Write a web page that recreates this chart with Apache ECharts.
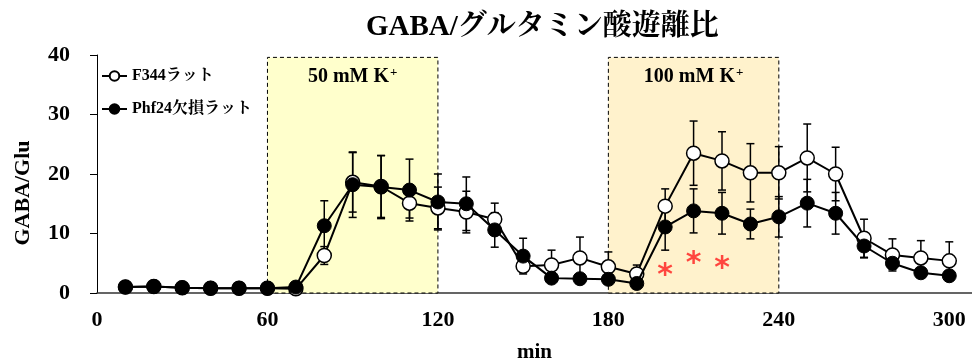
<!DOCTYPE html>
<html>
<head>
<meta charset="utf-8">
<script src="https://cdn.jsdelivr.net/npm/echarts@6/dist/echarts.min.js"></script>
<style>
html,body{margin:0;padding:0;background:#fff;}
#chart{width:972px;height:363px;}
</style>
</head>
<body>
<div id="chart"></div>
<script>
// ---- data ----
const times = [10,20,30,40,50,60,70,80,90,100,110,120,130,140,150,160,170,180,190,200,210,220,230,240,250,260,270,280,290,300];
const f344 = [1.0,1.1,0.9,0.8,0.8,0.8,0.7,6.3,18.6,17.9,15.1,14.3,13.6,12.4,4.5,4.7,5.9,4.4,3.2,14.6,23.5,22.2,20.2,20.2,22.7,20.0,9.2,6.4,5.9,5.4];
const f344Err = [0.3,0.3,0.2,0.2,0.2,0.2,0.3,1.5,5.0,5.2,2.5,3.5,3.5,2.7,1.0,2.5,3.5,2.5,1.5,2.9,5.4,4.9,4.9,4.4,5.7,4.5,3.2,2.7,2.9,3.2];
const phf24 = [1.0,1.1,0.9,0.8,0.8,0.8,1.0,11.3,18.2,17.8,17.3,15.3,15.0,10.6,6.2,2.5,2.4,2.3,1.6,11.1,13.8,13.4,11.6,12.8,15.1,13.4,7.9,5.0,3.4,2.9];
const phf24Err = [0.3,0.3,0.2,0.2,0.2,0.2,0.3,4.2,5.5,5.3,5.2,4.7,4.5,2.9,3.0,0.5,0.5,0.5,0.5,3.9,3.7,3.5,2.5,3.4,4.0,3.5,2.0,1.0,0.8,0.8];
const sigTimes = [200,210,220];
const sigY = [4.0,6.0,5.2];
const xTicks = [0,60,120,180,240,300];
const yTicks = [0,10,20,30,40];
const stimWindows = [[60,120,'50 mM K'],[180,240,'100 mM K']];
const stimTop = 39.6;
const seriesNames = ['F344ラット','Phf24欠損ラット'];
const titleText = 'GABA/グルタミン酸遊離比';

const SERIF = "'Liberation Serif','Noto Serif CJK JP','Noto Sans CJK JP',serif";

function errData(vals, errs){
  return times.map((t,i)=>[t, vals[i]-errs[i], vals[i]+errs[i]]);
}
function errRender(params, api){
  const x = api.value(0), lo = api.value(1), hi = api.value(2);
  const a = api.coord([x, hi]), b = api.coord([x, lo]);
  const hw = 4;
  const st = {stroke:'#000', lineWidth:1.5};
  return {type:'group', children:[
    {type:'line', shape:{x1:a[0],y1:a[1],x2:b[0],y2:b[1]}, style:st},
    {type:'line', shape:{x1:a[0]-hw,y1:a[1],x2:a[0]+hw,y2:a[1]}, style:st},
    {type:'line', shape:{x1:b[0]-hw,y1:b[1],x2:b[0]+hw,y2:b[1]}, style:st}
  ]};
}

const areaColors = ['#ffffcc','#fff2cc'];
const markAreaData = stimWindows.map((w,i)=>[
  {xAxis:w[0], yAxis:0, name:w[2], itemStyle:{color:areaColors[i], borderColor:'#000', borderWidth:1, borderType:[4,3]}},
  {xAxis:w[1], yAxis:stimTop}
]);

const chart = echarts.init(document.getElementById('chart'), null, {renderer:'canvas'});
chart.setOption({
  animation:false,
  backgroundColor:'#fff',
  title:{
    text:titleText, left:361, top:8,
    textStyle:{fontFamily:SERIF, fontWeight:'bold', fontSize:29, color:'#000'}
  },
  legend:{
    orient:'vertical', left:101, top:68, itemGap:17, padding:0,
    itemWidth:25, itemHeight:12,
    data:seriesNames,
    textStyle:{fontFamily:SERIF, fontWeight:'bold', fontSize:16, color:'#000'}
  },
  grid:{left:97, right:0, top:55, bottom:70, containLabel:false, outerBoundsMode:'none'},
  xAxis:{
    type:'value', min:0, max:308, interval:60,
    name:'min', nameLocation:'middle', nameGap:49,
    nameTextStyle:{fontFamily:SERIF, fontWeight:'bold', fontSize:21, color:'#000'},
    axisLine:{show:true, onZero:false, lineStyle:{color:'#333', width:1.5}},
    axisTick:{show:false},
    splitLine:{show:false},
    axisLabel:{
      margin:16, color:'#000', fontFamily:SERIF, fontWeight:'bold', fontSize:22,
      formatter:v => xTicks.indexOf(v) >= 0 ? String(v) : ''
    }
  },
  yAxis:{
    type:'value', min:0, max:40, interval:10,
    name:'GABA/Glu', nameLocation:'middle', nameGap:63, nameRotate:90,
    nameTextStyle:{fontFamily:SERIF, fontWeight:'bold', fontSize:22, color:'#000', padding:[0,38,0,0]},
    axisLine:{show:true, lineStyle:{color:'#000', width:1}},
    axisTick:{show:true, inside:false, length:7, lineStyle:{color:'#000', width:1}},
    splitLine:{show:false},
    axisLabel:{
      margin:27, color:'#000', fontFamily:SERIF, fontWeight:'bold', fontSize:22,
      formatter:v => yTicks.indexOf(v) >= 0 ? String(v) : ''
    }
  },
  series:[
    {
      type:'custom', name:'errF', z:3, silent:true,
      renderItem:errRender, data:errData(f344, f344Err),
      encode:{x:0, y:[1,2]},
      markArea:{
        silent:true, z:1,
        label:{
          show:true, position:'insideTop', distance:9,
          formatter:p => '{t|' + p.name + '}{s|+}',
          rich:{
            t:{fontFamily:SERIF, fontWeight:'bold', fontSize:20, color:'#000', lineHeight:22},
            s:{fontFamily:SERIF, fontWeight:'bold', fontSize:13, color:'#000', lineHeight:13, verticalAlign:'top', padding:[0,0,4,1]}
          }
        },
        data:markAreaData
      }
    },
    {
      type:'custom', name:'errP', z:3, silent:true,
      renderItem:errRender, data:errData(phf24, phf24Err),
      encode:{x:0, y:[1,2]}
    },
    {
      type:'line', name:seriesNames[0], z:5,
      data:times.map((t,i)=>[t, f344[i]]),
      symbol:'circle', symbolSize:14, showAllSymbol:true,
      lineStyle:{color:'#000', width:2},
      itemStyle:{color:'#fff', borderColor:'#000', borderWidth:1.5}
    },
    {
      type:'line', name:seriesNames[1], z:6,
      data:times.map((t,i)=>[t, phf24[i]]),
      symbol:'circle', symbolSize:14, showAllSymbol:true,
      lineStyle:{color:'#000', width:2},
      itemStyle:{color:'#000', borderColor:'#000', borderWidth:1}
    },
    {
      type:'scatter', name:'sig', z:7, silent:true,
      data:sigTimes.map((t,i)=>[t, sigY[i]]),
      symbolSize:1, itemStyle:{color:'rgba(0,0,0,0)'},
      label:{show:true, position:'inside', formatter:'*', offset:[0,7],
        color:'#ff1a1a', fontFamily:"'DejaVu Sans',sans-serif", fontWeight:'bold', fontSize:30}
    }
  ]
});
</script>
</body>
</html>
